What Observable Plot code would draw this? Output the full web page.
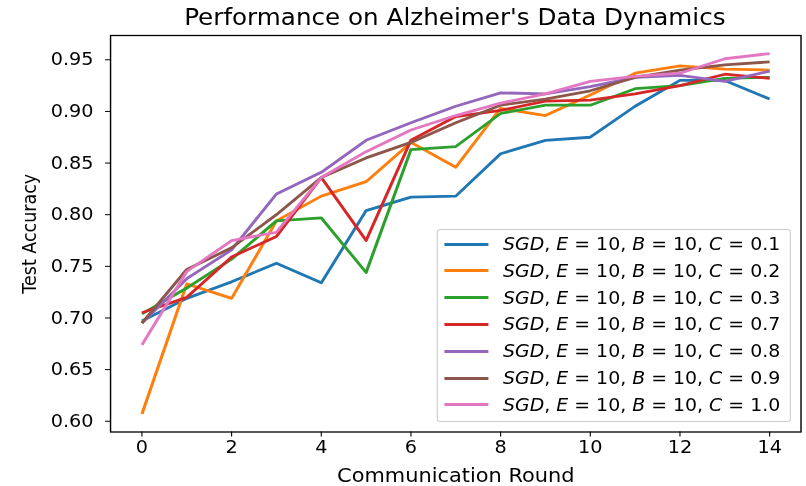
<!DOCTYPE html>
<html><head><meta charset="utf-8">
<script src="https://cdn.jsdelivr.net/npm/d3@7"></script>
<script src="https://cdn.jsdelivr.net/npm/@observablehq/plot@0.6"></script>
<style>
html,body{margin:0;padding:0;background:#fff;}
#wrap{position:relative;width:733px;height:486px;transform:scaleX(1.1);transform-origin:0 0;font-family:"DejaVu Sans",sans-serif;color:#000;}
#title{position:absolute;left:0;top:2px;width:827px;height:30px;line-height:30px;text-align:center;font-size:22.4px;white-space:nowrap;}
#chart{position:absolute;left:0;top:30px;}
#legend{position:absolute;left:397.3px;top:229px;width:321.8px;height:193px;box-sizing:border-box;border:1px solid #cccccc;border-radius:3px;background:rgba(255,255,255,0.8);}
.lh{position:absolute;left:6px;width:39.5px;height:3px;}
.lt{position:absolute;left:59px;height:22px;line-height:22px;font-size:17.2px;white-space:nowrap;}
</style>
</head><body>
<div id="wrap">
  <div id="title"></div>
  <div id="chart"></div>
  <div id="legend"></div>
</div>
<script>
const titleText = "Performance on Alzheimer's Data Dynamics";
const xLabel = "Communication Round";
const yLabel = "Test Accuracy";
const rounds = [0,1,2,3,4,5,6,7,8,9,10,11,12,13,14];
const xTicks = [0,2,4,6,8,10,12,14];
const yTicks = [0.60,0.65,0.70,0.75,0.80,0.85,0.90,0.95];
const cValues = ["0.1","0.2","0.3","0.7","0.8","0.9","1.0"];
const colors = ["#1f77b4","#ff7f0e","#2ca02c","#d62728","#9467bd","#8c564b","#e377c2"];
const accC01 = [0.697,0.719,0.735,0.753,0.734,0.804,0.817,0.818,0.859,0.872,0.875,0.905,0.930,0.930,0.912];
const accC02 = [0.607,0.733,0.719,0.794,0.818,0.832,0.870,0.846,0.903,0.896,0.916,0.937,0.944,0.941,0.940];
const accC03 = [0.704,0.729,0.757,0.794,0.797,0.744,0.863,0.866,0.898,0.906,0.906,0.922,0.925,0.932,0.933];
const accC07 = [0.705,0.720,0.759,0.779,0.836,0.775,0.872,0.895,0.901,0.910,0.911,0.917,0.925,0.936,0.932];
const accC08 = [0.695,0.738,0.766,0.820,0.841,0.872,0.889,0.905,0.918,0.917,0.924,0.933,0.935,0.929,0.939];
const accC09 = [0.695,0.747,0.768,0.800,0.836,0.855,0.870,0.889,0.906,0.912,0.920,0.933,0.940,0.945,0.948];
const accC10 = [0.674,0.745,0.775,0.783,0.836,0.861,0.882,0.896,0.908,0.917,0.929,0.934,0.937,0.951,0.956];
const seriesValues = [accC01,accC02,accC03,accC07,accC08,accC09,accC10];

const rows = [];
seriesValues.forEach((vals, i) => vals.forEach((v, j) => rows.push({series: cValues[i], round: rounds[j], acc: v})));

document.getElementById("title").textContent = titleText;

const chart = Plot.plot({
  width: 733,
  height: 456,
  marginTop: 5,
  marginBottom: 54.5,
  marginLeft: 100,
  marginRight: 5.3,
  style: {fontFamily: "DejaVu Sans, sans-serif", fontSize: "17px", color: "#000", background: "transparent"},
  x: {domain: [-0.7, 14.7]},
  y: {domain: [0.5896, 0.9735]},
  color: {domain: cValues, range: colors},
  marks: [
    Plot.line(rows, {x: "round", y: "acc", stroke: "series", z: "series", strokeWidth: 2.8, strokeLinejoin: "round", strokeLinecap: "butt"}),
    Plot.frame({stroke: "#000", strokeWidth: 1.3}),
    Plot.axisX({ticks: xTicks, tickSize: 5, tickPadding: 4, tickFormat: d => String(d), fontSize: 17.5, label: null}),
    Plot.text([xLabel], {frameAnchor: "bottom", text: d => d, dy: 44, lineAnchor: "middle", fontSize: 19, fill: "#000"}),
    Plot.axisY({ticks: yTicks, tickSize: 4.5, tickPadding: 11, tickFormat: d => d.toFixed(2), fontSize: 17.5,
      label: yLabel, labelAnchor: "center", labelArrow: "none", labelOffset: 80})
  ]
});
document.getElementById("chart").appendChild(chart);

// legend
const leg = document.getElementById("legend");
const rowY0 = 244 - 229 - 1, rowStep = 26.8;
cValues.forEach((c, i) => {
  const cy = rowY0 + i * rowStep;
  const h = document.createElement("div");
  h.className = "lh";
  h.style.top = (cy - 1.5) + "px";
  h.style.background = colors[i];
  leg.appendChild(h);
  const t = document.createElement("div");
  t.className = "lt";
  t.style.top = (cy - 11) + "px";
  t.innerHTML = "<i>SGD</i>, <i>E</i> = 10, <i>B</i> = 10, <i>C</i> = " + c;
  leg.appendChild(t);
});
</script>
</body></html>
